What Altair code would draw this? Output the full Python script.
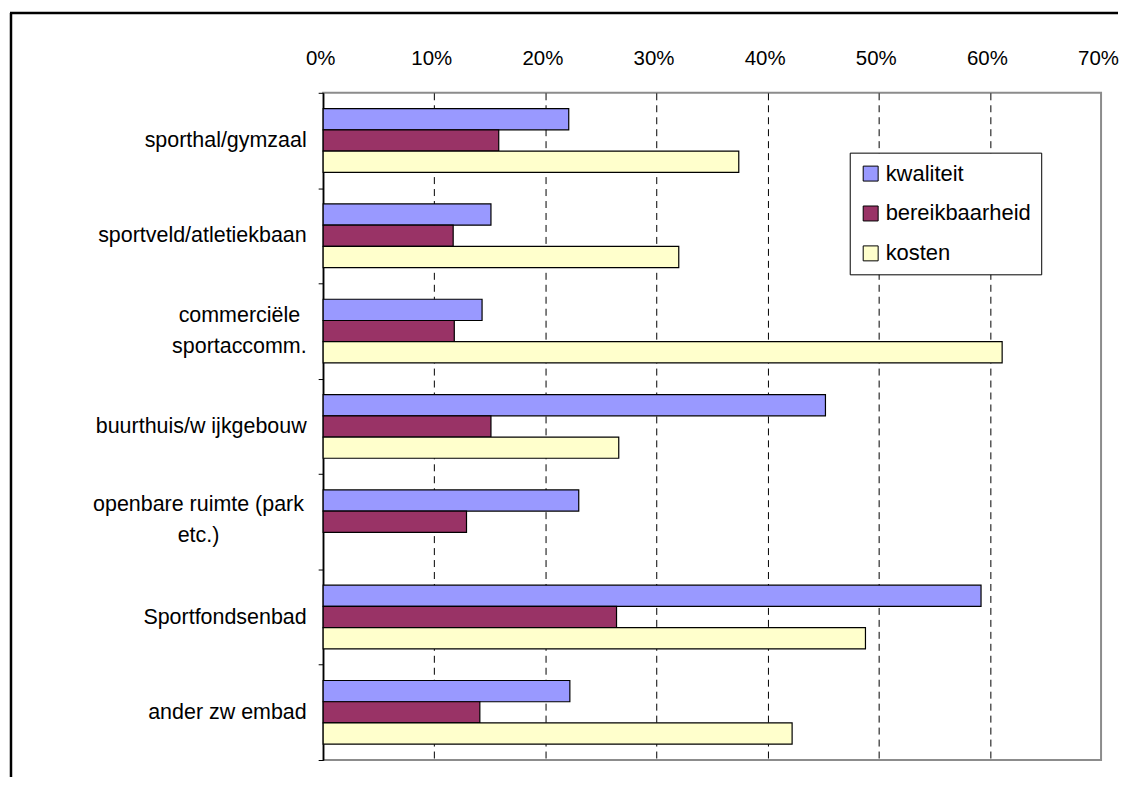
import altair as alt
import pandas as pd

categories = [
    "sporthal/gymzaal",
    "sportveld/atletiekbaan",
    "commerciële|sportaccomm.",
    "buurthuis/w ijkgebouw",
    "openbare ruimte (park|etc.)",
    "Sportfondsenbad",
    "ander zw embad",
]
series = ["kwaliteit", "bereikbaarheid", "kosten"]
kwaliteit = [0.221, 0.151, 0.143, 0.452, 0.230, 0.592, 0.222]
bereikbaarheid = [0.158, 0.117, 0.118, 0.151, 0.129, 0.264, 0.141]
kosten = [0.374, 0.320, 0.611, 0.266, None, 0.488, 0.422]
colors = ["#9999FF", "#993366", "#FFFFCC"]
x_ticks = [0.0, 0.1, 0.2, 0.3, 0.4, 0.5, 0.6, 0.7]

rows = []
for s, vals in zip(series, [kwaliteit, bereikbaarheid, kosten]):
    for c, v in zip(categories, vals):
        if v is not None:
            rows.append({"cat": c, "serie": s, "value": v})
df = pd.DataFrame(rows)
cat_df = pd.DataFrame({"cat": categories})

FONT = "Liberation Sans"
Y_SCALE = alt.Scale(domain=categories, paddingInner=0, paddingOuter=0)

bars = alt.Chart(df).mark_bar(stroke="black", strokeWidth=1.2).encode(
    x=alt.X(
        "value:Q",
        scale=alt.Scale(domain=[0, 0.7], nice=False, zero=True),
        axis=alt.Axis(
            orient="top",
            values=x_ticks,
            format=".0%",
            title=None,
            grid=True,
            gridColor="black",
            gridDash=[7, 5],
            gridWidth=1,
            gridOpacity={"condition": {"test": "datum.value < 0.001 || datum.value > 0.69", "value": 0}, "value": 1},
            domain=False,
            ticks=False,
            tickSize=0,
            labelFlush=False,
            labelOverlap=False,
            labelFont=FONT,
            labelFontSize=20.5,
            labelOffset=-3,
            labelColor="black",
            labelBaseline="alphabetic",
            labelPadding=28,
            minExtent=84,
            maxExtent=84,
        ),
    ),
    y=alt.Y(
        "cat:N",
        sort=categories,
        scale=Y_SCALE,
        axis=alt.Axis(
            title=None,
            grid=False,
            domain=True,
            domainColor="black",
            domainWidth=1.5,
            ticks=True,
            tickBand="extent",
            tickColor="black",
            tickSize=5,
            labelFont=FONT,
            labelFontSize=21.5,
            labelColor="black",
            labelLimit=400,
            labelExpr="indexof(datum.label, '|') >= 0 ? '' : datum.label",
            labelPadding=12,
            minExtent=314,
            maxExtent=314,
        ),
    ),
    yOffset=alt.YOffset(
        "serie:N",
        sort=series,
        scale=alt.Scale(domain=series, paddingInner=0, paddingOuter=0.745),
    ),
    fill=alt.Fill(
        "serie:N",
        sort=series,
        scale=alt.Scale(domain=series, range=colors),
        legend=alt.Legend(
            title=None,
            orient="none",
            legendX=528,
            legendY=60,
            strokeColor="black",
            fillColor="white",
            padding=10,
            symbolType="square",
            symbolSize=225,
            symbolStrokeColor="black",
            symbolStrokeWidth=1,
            labelFont=FONT,
            labelFontSize=22,
            labelColor="black",
            labelOffset=4,
            labelLimit=300,
            rowPadding=18,
        ),
    ),
)

# centred two-line category labels (Excel wraps and centres them)
label_commerc = alt.Chart(cat_df).transform_filter(
    "indexof(datum.cat, 'commerc') >= 0"
).mark_text(
    align="center", baseline="middle", lineBreak="|", lineHeight=31, dy=-15.5,
    font=FONT, fontSize=21.5, color="black",
).encode(
    y=alt.Y("cat:N", sort=categories, scale=Y_SCALE),
    x=alt.value(-84),
    text="cat:N",
)
label_openbaar = alt.Chart(cat_df).transform_filter(
    "indexof(datum.cat, 'openbare') >= 0"
).mark_text(
    align="center", baseline="middle", lineBreak="|", lineHeight=31, dy=-17,
    font=FONT, fontSize=21.5, color="black",
).encode(
    y=alt.Y("cat:N", sort=categories, scale=Y_SCALE),
    x=alt.value(-125),
    text="cat:N",
)

border_df = pd.DataFrame({"a": [0]})
left_border = alt.Chart(border_df).mark_rule(color="black", strokeWidth=2.5).encode(
    x=alt.value(-313), y=alt.value(-80), y2=alt.value(686)
)
top_border = alt.Chart(border_df).mark_rule(color="black", strokeWidth=2.5).encode(
    x=alt.value(-314), x2=alt.value(797), y=alt.value(-80)
)

chart = (
    alt.layer(bars, label_commerc, label_openbaar, left_border, top_border)
    .properties(width=780, height=669, padding=0, background="white")
    .configure_view(stroke="#8c8c8c", strokeWidth=2)
)

chart.save("out.html", embed_options={"renderer": "svg", "actions": False})
